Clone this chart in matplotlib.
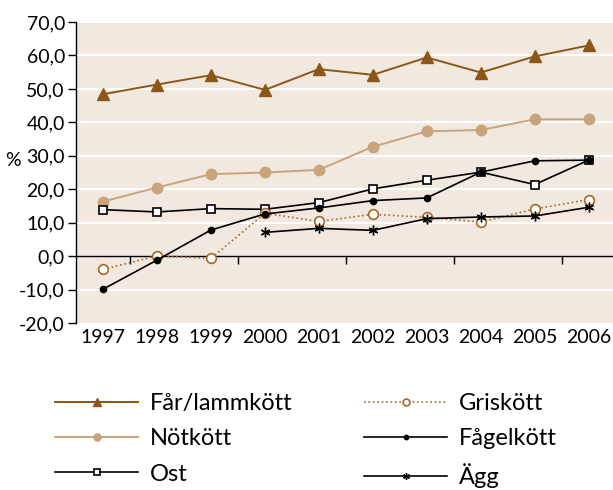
import matplotlib
matplotlib.use("Agg")
import matplotlib.pyplot as plt
import numpy as np

plt.rcParams['font.family'] = ['Lato', 'DejaVu Sans']

years = ['1997', '1998', '1999', '2000', '2001', '2002', '2003', '2004', '2005', '2006']
far_lamm = [48.4, 51.3, 54.1, 49.7, 55.9, 54.2, 59.4, 54.9, 59.7, 63.0]
notkott = [16.3, 20.5, 24.5, 25.0, 25.8, 32.7, 37.3, 37.7, 40.9, 40.9]
ost = [13.9, 13.2, 14.2, 14.0, 16.0, 20.1, 22.7, 25.1, 21.4, 28.7]
griskott = [-4.0, 0.1, -0.7, 12.8, 10.4, 12.5, 11.6, 10.2, 14.1, 16.9]
fagelkott = [-9.9, -1.2, 7.8, 12.6, 14.4, 16.6, 17.4, 25.1, 28.5, 28.7]
agg = [np.nan, np.nan, np.nan, 7.1, 8.3, 7.7, 11.2, 11.7, 12.0, 14.6]
yticks = [-20, -10, 0, 10, 20, 30, 40, 50, 60, 70]

bg = '#f1e8df'
c_far = '#8c5618'
c_not = '#c8a47c'
c_gris = '#a5692c'

fig = plt.figure(figsize=(6.13, 4.90), dpi=100)
ax = fig.add_axes([76/613, 1-323/490, 537/613, 301/490])
ax.set_facecolor(bg)
x = np.arange(len(years))

for v in yticks:
    if v not in (0, -20):
        ax.axhline(v, color='white', lw=1.5, zorder=1)
ax.axhline(0, color='black', lw=1.0, zorder=2)
ax.vlines(x[:-1:2] + 0.5, -2.4, 0, color='black', lw=1.0, zorder=2)

ax.plot(x, far_lamm, color=c_far, lw=1.4, marker='^', ms=8, label='Får/lammkött', zorder=5)
ax.plot(x, notkott, color=c_not, lw=1.4, marker='o', ms=7.5, label='Nötkött', zorder=5)
ax.plot(x, ost, color='black', lw=1.2, marker='s', ms=6, mfc='white', mec='black', mew=1.2, label='Ost', zorder=5)
ax.plot(x, griskott, color=c_gris, lw=1.2, ls=':', marker='o', ms=7, mfc='white', mec=c_gris, mew=1.2, label='Griskött', zorder=5)
ax.plot(x, fagelkott, color='black', lw=1.2, marker='o', ms=4.5, label='Fågelkött', zorder=6)
ax.plot(x, agg, color='black', lw=1.2, marker=(6, 2, 0), ms=7, mew=1.0, label='Ägg', zorder=6)

ax.set_xlim(-0.5, 9.45)
ax.set_ylim(-20, 70)
ax.set_yticks(yticks)
ax.set_yticklabels([f"{v:.1f}".replace('.', ',') for v in yticks], fontsize=14)
ax.set_xticks(x)
ax.set_xticklabels(years, fontsize=14)
ax.tick_params(axis='x', length=0, pad=4)
ax.tick_params(axis='y', length=6, width=1.0, pad=2, direction='out')
for s in ['top', 'right', 'bottom']:
    ax.spines[s].set_visible(False)
ax.spines['left'].set_linewidth(1.0)

fig.text(5/613, 1-160/490, '%', fontsize=14, va='center', ha='left')

h, l = ax.get_legend_handles_labels()
leg = fig.legend(h, l, ncol=2, loc='upper left', bbox_to_anchor=(34/613, 1-372/490),
                 frameon=False, fontsize=17, handlelength=3.5, handletextpad=0.5,
                 columnspacing=3.05, labelspacing=0.6, markerscale=0.7)

fig.savefig('out.png', dpi=100)
